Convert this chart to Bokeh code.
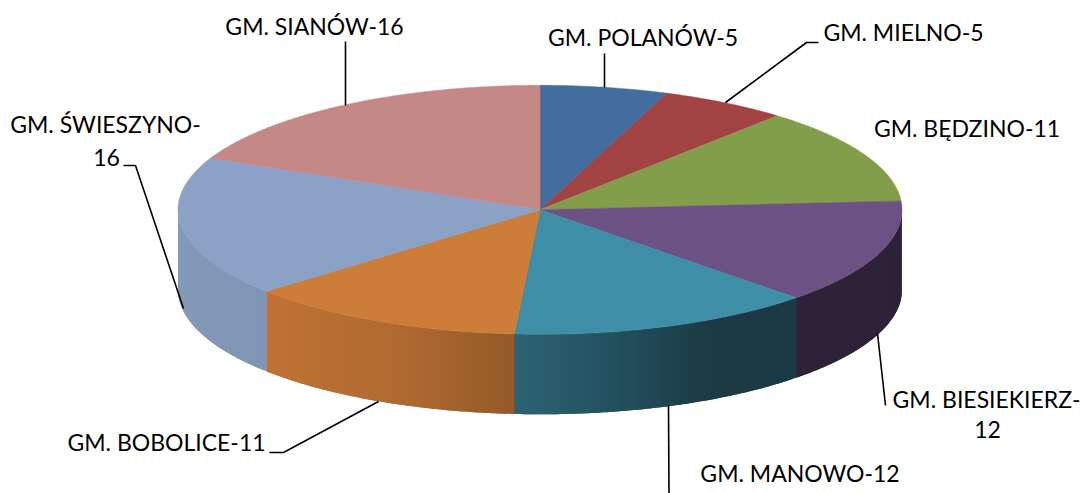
from math import sin, cos, radians
from bokeh.plotting import figure
from bokeh.embed import file_html
from bokeh.resources import INLINE
from bokeh.core.properties import value

categories = ["GM. POLANÓW", "GM. MIELNO", "GM. BĘDZINO", "GM. BIESIEKIERZ",
              "GM. MANOWO", "GM. BOBOLICE", "GM. ŚWIESZYNO", "GM. SIANÓW"]
values = [5, 5, 11, 12, 12, 11, 16, 16]
top_colors = ["#436C9F", "#A04342", "#829E4A", "#6C5284",
              "#3F8EA7", "#CC7D38", "#8CA1C6", "#C48987"]
# side shading: list of (x position, colour) stops for each slice's visible wall
side_stops = [
    [], [], [],
    [(790, "#2D2238"), (905, "#2D2238")],
    [(514, "#2C6373"), (600, "#245361"), (715, "#1B3A44"), (796, "#1B3A44")],
    [(266, "#C07233"), (400, "#AF6A30"), (514, "#945A28")],
    [(178, "#8499B8"), (266, "#7F95B6")],
    [],
]

label_lines = ["GM. POLANÓW-5", "GM. MIELNO-5", "GM. BĘDZINO-11", "GM. BIESIEKIERZ-", "12",
               "GM. MANOWO-12", "GM. BOBOLICE-11", "GM. ŚWIESZYNO-", "16", "GM. SIANÓW-16"]
label_x = [642.5, 903, 966.5, 986, 987, 799.5, 166, 105, 106, 314]
label_y = [36, 31, 127, 398, 429, 472, 441, 123, 157, 25]

leader_xs = [[604, 604], [725, 806, 818], [877, 885], [668, 668.5],
             [378, 283, 269], [183, 135, 123], [345, 345]]
leader_ys = [[87, 53], [102, 42, 42], [333, 405], [405, 493],
             [401, 452, 452], [308, 165, 165], [105, 41]]

CX, CY, RX, RY, DEPTH = 539.5, 209.3, 362.0, 124.5, 80.0


def pt(a, dy=0.0):
    t = radians(a)
    return CX + RX * sin(t), CY - RY * cos(t) + dy


def hex2rgb(c):
    return tuple(int(c[i:i + 2], 16) for i in (1, 3, 5))


def shade(stops, x):
    if x <= stops[0][0]:
        return stops[0][1]
    for (x0, c0), (x1, c1) in zip(stops, stops[1:]):
        if x <= x1:
            f = (x - x0) / (x1 - x0)
            a, b = hex2rgb(c0), hex2rgb(c1)
            return "#%02x%02x%02x" % tuple(round(u + (v - u) * f) for u, v in zip(a, b))
    return stops[-1][1]


total = sum(values)
p = figure(width=1081, height=493, x_range=(0, 1081), y_range=(493, 0),
           output_backend="svg", toolbar_location=None, min_border=0,
           outline_line_color=None, background_fill_color="white",
           border_fill_color="white")
p.axis.visible = False
p.grid.visible = False

# walls: each strip runs on to the slice's end side by one step so no seams show
wall_x, wall_y, wall_c = [], [], []
start = 0.0
for v, stops in zip(values, side_stops):
    end = start + v / total * 360
    a0, a1 = max(start, 90.0), min(end, 270.0)
    if stops and a1 > a0:
        n = int(a1 - a0) + 1
        for i in range(n):
            s0 = a0 + (a1 - a0) * i / n
            s1 = a0 + (a1 - a0) * min(i + 2, n) / n
            arc = [pt(s0 + (s1 - s0) * j / 4) for j in range(5)]
            wall_x.append([q[0] for q in arc] + [q[0] for q in reversed(arc)])
            wall_y.append([q[1] for q in arc] + [q[1] + DEPTH for q in reversed(arc)])
            wall_c.append(shade(stops, pt(s0 + (a1 - a0) / n / 2)[0]))
    start = end
p.patches(wall_x, wall_y, fill_color=wall_c, line_color=None)

# top surface
top_x, top_y = [], []
start = 0.0
for v in values:
    end = start + v / total * 360
    n = max(int(end - start), 2) * 2
    pts = [pt(start + (end - start) * i / n) for i in range(n + 1)]
    top_x.append([CX] + [q[0] for q in pts])
    top_y.append([CY] + [q[1] for q in pts])
    start = end
p.patches(top_x, top_y, fill_color=top_colors, line_color=top_colors, line_width=0.5)

p.multi_line(leader_xs, leader_ys, line_color="black", line_width=1.6)

p.text(label_x, label_y, text=label_lines, text_font=value("Lato"),
       text_font_size="23px", text_color="black",
       text_align="center", text_baseline="alphabetic")

open("out.html", "w").write(file_html(p, INLINE))
